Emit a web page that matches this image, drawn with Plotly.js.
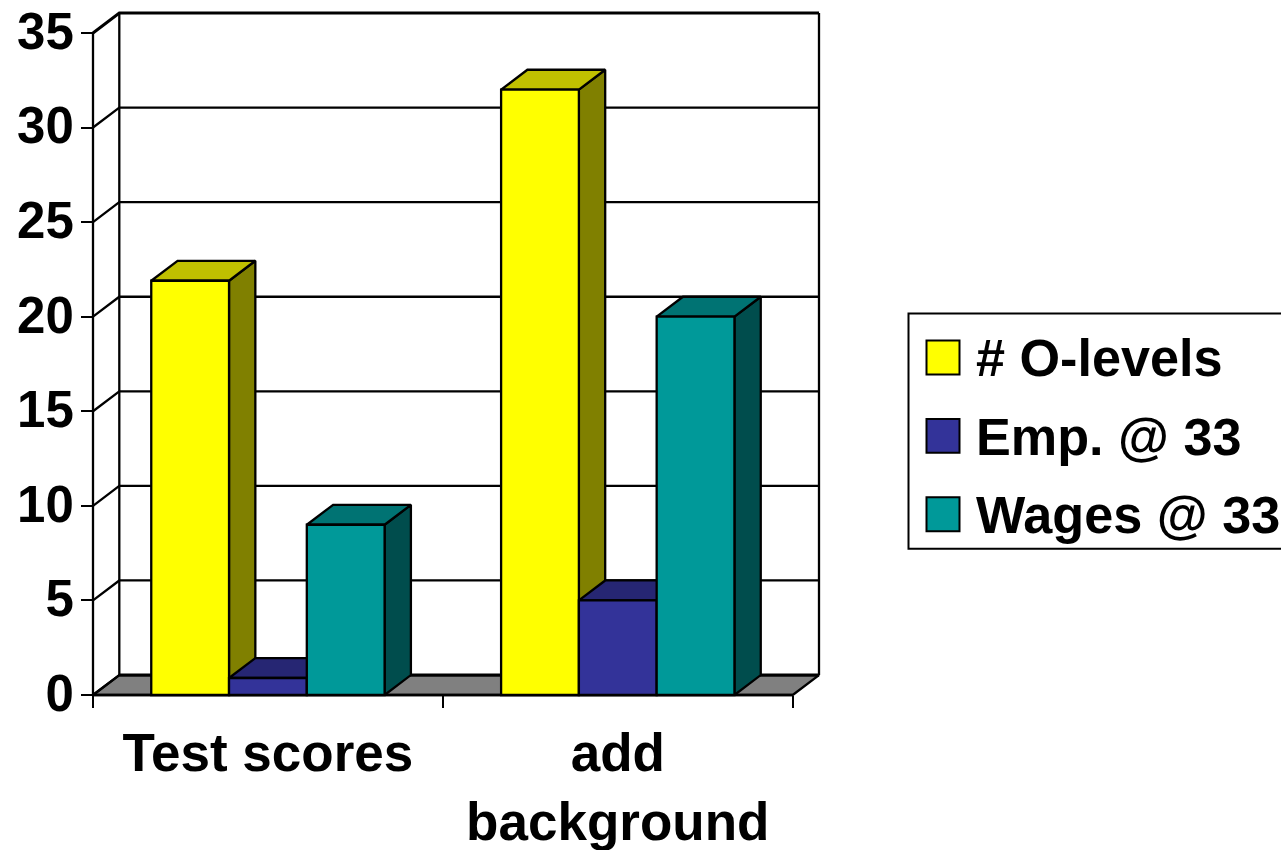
<!DOCTYPE html>
<html>
<head>
<meta charset="utf-8">
<title>Test scores and background</title>
<script src="https://cdn.plot.ly/plotly-3.0.1.min.js"></script>
<style>html,body{margin:0;padding:0;background:#fff;overflow:hidden}</style>
</head>
<body>
<div id="chart" style="width:1281px;height:850px"></div>
<script>
// Chart values
const categories = ["Test scores", "add<br>background"];
const seriesNames = ["# O-levels", "Emp. @ 33", "Wages @ 33"];
const oLevels = [21.9, 32];
const employment = [0.9, 5];
const wages = [9, 20];
const yTicks = [0, 5, 10, 15, 20, 25, 30, 35];

// Fill colours: front, top and side face of each series
const frontColors = ["#FFFF00", "#333399", "#009999"];
const topColors = ["#C0C000", "#262673", "#007373"];
const sideColors = ["#808000", "#1A1A4D", "#004D4D"];

const seriesValues = [oLevels, employment, wages];

// Oblique projection: how far the back plane sits from the front plane, in axis units
const depthX = 0.0752;
const depthY = 1.055;
const yMax = 35;
const groupCount = categories.length;
const barGap = 0.333;
const barWidth = (1 - barGap) / seriesValues.length;

const catCenters = categories.map((_, i) => i + 0.5);
const black = "#000000";
const edge = 2.3;

function polygon(xs, ys, fill, zorder) {
  return {
    type: "scatter", mode: "lines", x: xs, y: ys,
    fill: "toself", fillcolor: fill,
    line: {color: black, width: edge, shape: "linear"},
    hoverinfo: "skip", showlegend: false, zorder: zorder
  };
}

function wire(xs, ys, width) {
  return {
    type: "scatter", mode: "lines", x: xs, y: ys,
    line: {color: black, width: width},
    connectgaps: false, hoverinfo: "skip", showlegend: false, zorder: 0
  };
}

const traces = [];

// Floor
traces.push(polygon(
  [0, depthX, groupCount + depthX, groupCount, 0],
  [0, depthY, depthY, 0, 0], "#808080", 0));

// Back-wall gridlines with their run back from the front axis
const gridX = [], gridY = [];
yTicks.slice(0, -1).forEach(v => {
  gridX.push(0, depthX, groupCount + depthX, null);
  gridY.push(v, v + depthY, v + depthY, null);
});
traces.push(wire(gridX, gridY, edge));

// Wall verticals and the front value axis
traces.push(wire(
  [0, 0, null, depthX, depthX, null, groupCount + depthX, groupCount + depthX, null, 0, groupCount],
  [0, yMax, null, depthY, yMax + depthY, null, depthY, yMax + depthY, null, 0, 0], edge));

// Top edge of the walls and back edge of the floor
traces.push(wire(
  [0, depthX, groupCount + depthX, null, depthX, groupCount + depthX],
  [yMax, yMax + depthY, yMax + depthY, null, depthY, depthY], 3));

// Each series stacks one layer higher so its front hides the previous side face
seriesValues.forEach((values, s) => {
  const xl = catCenters.map(c => c - 1.5 * barWidth + s * barWidth);
  const xr = xl.map(x => x + barWidth);
  values.forEach((v, i) => {
    traces.push(polygon(
      [xr[i], xr[i], xr[i] + depthX, xr[i] + depthX, xr[i]],
      [0, v, v + depthY, depthY, 0], sideColors[s], 2 * s + 1));
    traces.push(polygon(
      [xl[i], xr[i], xr[i] + depthX, xl[i] + depthX, xl[i]],
      [v, v, v + depthY, v + depthY, v], topColors[s], 2 * s + 1));
  });
  traces.push({
    type: "bar", name: seriesNames[s], x: catCenters, y: values,
    marker: {color: frontColors[s], line: {color: black, width: edge}},
    hoverinfo: "y", showlegend: false, zorder: 2 * s + 2
  });
});

// The plot area is padded on every side so edge strokes are not clipped;
// both axes are then pinned back to the zero lines inside it.
const pad = 5;
const inner = {l: 93, r: 462, t: 12.5, b: 154.5, w: 1281, h: 850};
const box = {l: inner.l - pad, r: inner.r - pad, t: inner.t - pad, b: inner.b - pad};
const plotW = inner.w - box.l - box.r;
const plotH = inner.h - box.t - box.b;
const unitX = (plotW - 2 * pad) / (groupCount + depthX);
const unitY = (plotH - 2 * pad) / (yMax + depthY);
const paperX = px => (px - box.l) / plotW;
const paperY = py => (inner.h - box.b - py) / plotH;

const fontFamily = "Liberation Sans, Arial, sans-serif";
const boldFont = size => ({family: fontFamily, size: size, color: black, weight: "bold"});

const keyShapes = [{
  type: "rect", xref: "paper", yref: "paper",
  x0: paperX(908.5), x1: paperX(1295), y0: paperY(549), y1: paperY(313.5),
  line: {color: black, width: 2}, fillcolor: "#FFFFFF"
}];
const keyLabels = [];
const keyRowCenters = [357.5, 436, 514.5];
seriesNames.forEach((name, s) => {
  const cy = keyRowCenters[s];
  keyShapes.push({
    type: "rect", xref: "paper", yref: "paper",
    x0: paperX(926.5), x1: paperX(959.5), y0: paperY(cy + 17), y1: paperY(cy - 17),
    line: {color: black, width: 2}, fillcolor: frontColors[s]
  });
  keyLabels.push({
    xref: "paper", yref: "paper", x: paperX(974), y: paperY(cy + 1),
    xanchor: "left", yanchor: "middle", showarrow: false, align: "left",
    text: name, font: boldFont(52.2)
  });
});

const layout = {
  width: inner.w, height: inner.h,
  margin: {l: box.l, r: box.r, t: box.t, b: box.b, pad: 0, autoexpand: false},
  paper_bgcolor: "#FFFFFF", plot_bgcolor: "#FFFFFF",
  font: boldFont(52),
  showlegend: false,
  barmode: "group", bargap: barGap, bargroupgap: 0,
  xaxis: {
    range: [-pad / unitX, groupCount + depthX + pad / unitX], fixedrange: true,
    anchor: "free", position: pad / plotH,
    tickmode: "array", tickvals: catCenters, ticktext: categories,
    ticks: "", showgrid: false, zeroline: false, showline: false,
    tickfont: boldFont(53), tickangle: 0, ticklabelstandoff: 22,
    minor: {
      tickmode: "array", tickvals: [0, 1, 2], ticks: "outside",
      ticklen: 12, tickwidth: 2.3, tickcolor: black, showgrid: false
    }
  },
  yaxis: {
    range: [-pad / unitY, yMax + depthY + pad / unitY], fixedrange: true,
    anchor: "free", position: pad / plotW,
    tickmode: "array", tickvals: yTicks, ticktext: yTicks.map(String),
    ticks: "outside", ticklen: 12, tickwidth: 2.3, tickcolor: black,
    showgrid: false, zeroline: false, showline: false,
    tickfont: boldFont(51), ticklabelstandoff: -3, ticklabelshift: -2
  },
  shapes: keyShapes,
  annotations: keyLabels
};

Plotly.newPlot("chart", traces, layout, {displayModeBar: false, responsive: false});
</script>
</body>
</html>
